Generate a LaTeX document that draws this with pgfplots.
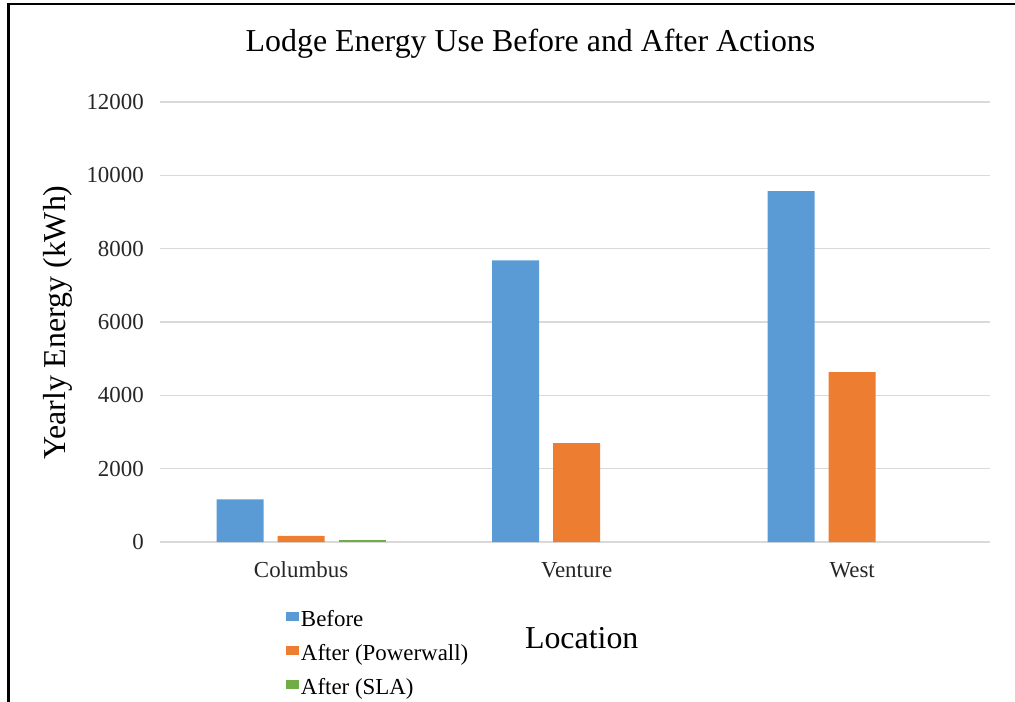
\documentclass[border=0pt]{standalone}
\usepackage{fontspec}
\setmainfont{Liberation Serif}
\usepackage{pgfplots}
\pgfplotsset{compat=1.18}
\definecolor{cBefore}{HTML}{5B9BD5}
\definecolor{cPW}{HTML}{ED7D31}
\definecolor{cSLA}{HTML}{70AD47}
\definecolor{cGrid}{HTML}{D9D9D9}
\begin{document}
\begin{tikzpicture}
\path[use as bounding box] (-160bp,-160bp) rectangle (855bp,542bp);
\begin{axis}[
  at={(0,0)}, anchor=south west,
  scale only axis, width=830bp, height=440bp,
  xmin=-0.512, xmax=2.5, ymin=0, ymax=12000,
  xtick={0,1,2}, xticklabels={Columbus,Venture,West},
  ytick={0,2000,...,12000},
  major tick length=0pt,
  axis line style={draw=none},
  ymajorgrids, grid style={cGrid, line width=1.2bp},
  /pgf/number format/assume math mode=true,
  scaled y ticks=false,
  yticklabel style={/pgf/number format/1000 sep={}, anchor=east, inner sep=0pt, xshift=-16bp},
  xticklabel style={anchor=base, inner sep=0pt, yshift=-35bp},
  tick label style={font=\fontsize{23}{27}\selectfont, text=black!85},
  title={Lodge Energy Use Before and After Actions},
  title style={at={(axis description cs:0.4464,1.1006)}, anchor=base, inner sep=0pt, font=\fontsize{32}{38}\selectfont},
  xlabel={Location},
  xlabel style={at={(axis description cs:0.5081,-0.2416)}, anchor=base, inner sep=0pt, font=\fontsize{32}{38}\selectfont},
  ylabel={Yearly Energy (kWh)},
  ylabel style={at={(axis description cs:-0.1140,0.4989)}, anchor=base, inner sep=0pt, font=\fontsize{32}{38}\selectfont},
  legend style={at={(axis description cs:0.1518,-0.1561)}, anchor=north west, draw=none, fill=none,
    inner sep=0pt, outer sep=0pt, row sep=13bp, column sep=2bp,
    font=\fontsize{23}{27}\selectfont,
    nodes={inner sep=0pt, text height=16bp, text depth=5bp}},
  legend cell align=left,
  legend image code/.code={\fill[#1] (0bp,0bp) rectangle (13bp,9bp);},
]
\addplot[ybar, bar width=47bp, bar shift=-61bp, fill=cBefore, draw=none] coordinates {(0,1160) (1,7680) (2,9570)};
\addplot[ybar, bar width=47bp, bar shift=0bp, fill=cPW, draw=none] coordinates {(0,165) (1,2700) (2,4630)};
\addplot[ybar, bar width=47bp, bar shift=61bp, fill=cSLA, draw=none] coordinates {(0,55)};
\legend{Before, After (Powerwall), After (SLA)}
\end{axis}
\draw[line width=2.5bp] (-151.3bp,-160bp) -- (-151.3bp,537.8bp) -- (855bp,537.8bp);
\end{tikzpicture}
\end{document}
